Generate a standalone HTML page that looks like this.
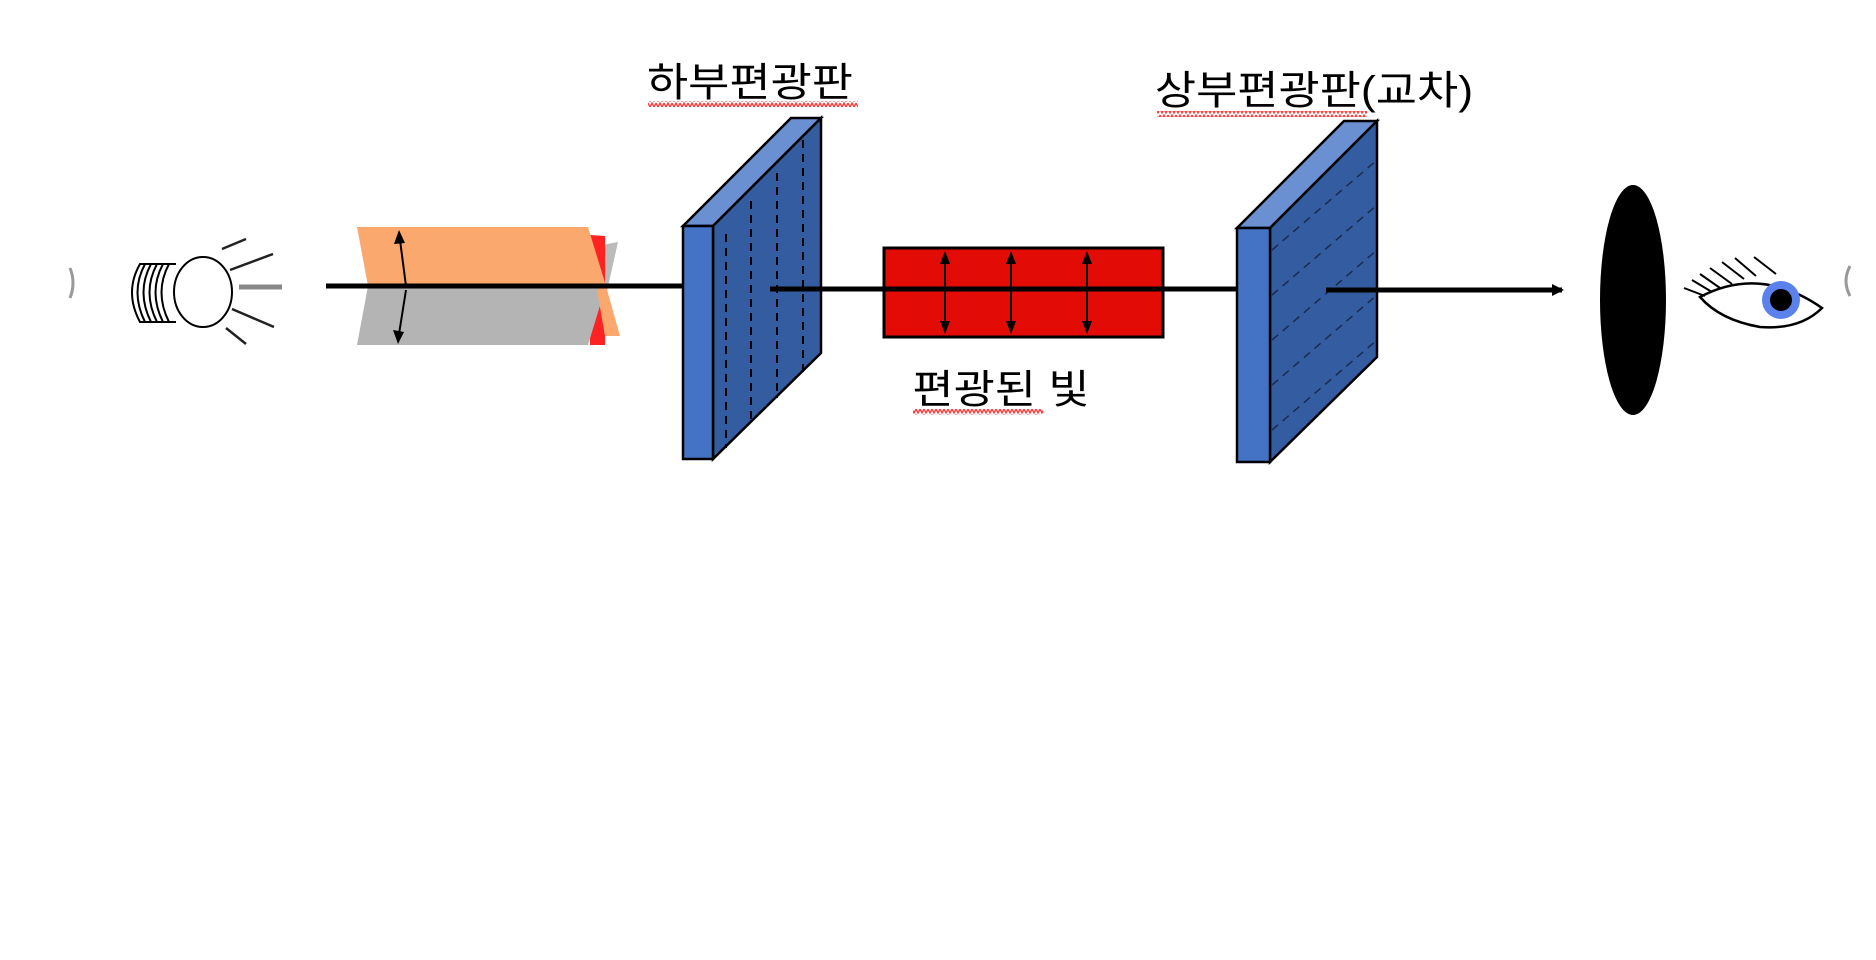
<!DOCTYPE html>
<html><head><meta charset="utf-8"><style>html,body{margin:0;padding:0;background:#fff;}svg{display:block;}</style></head>
<body>
<svg width="1876" height="960" viewBox="0 0 1876 960" xmlns="http://www.w3.org/2000/svg">
<defs>
<pattern id="sq" width="8" height="6" patternUnits="userSpaceOnUse"><path d="M0 1 L2 5 L4 1 L6 5 L8 1" fill="none" stroke="#f33" stroke-width="1.3"/></pattern>
<marker id="ah" markerWidth="14" markerHeight="14" refX="10" refY="7" orient="auto" markerUnits="userSpaceOnUse"><path d="M0 1 L12 7 L0 13 Z" fill="#000"/></marker>
</defs>
<path d="M70 268 Q76 283 70 298" stroke="#999" stroke-width="3" fill="none"/>
<!-- bulb -->
<g stroke="#000" stroke-width="2" fill="#fff">
<path d="M176 264 L140 264 Q124 292 140 322 L176 322" />
<path d="M145 264 Q130 292 145 322 M151 264 Q136 292 151 322 M157 264 Q142 292 157 322 M163 264 Q148 292 163 322 M169 264 Q154 292 169 322" fill="none"/>
<ellipse cx="203" cy="292" rx="29" ry="35"/>
</g>
<g stroke="#222" stroke-width="2.5">
<line x1="222" y1="249" x2="246" y2="239"/><line x1="230" y1="270" x2="273" y2="254"/>
<line x1="239" y1="287" x2="282" y2="287" stroke="#888" stroke-width="5"/>
<line x1="232" y1="309" x2="274" y2="327"/><line x1="226" y1="328" x2="246" y2="344"/>
</g>
<!-- light block -->
<polygon points="597,246 618,242 605,300" fill="#bbb"/>
<polygon points="590,235 605,236 605,345 590,345" fill="#f22"/>
<polygon points="357,227 588,227 606,286 368,286" fill="#fba86e"/>
<polygon points="368,286 606,286 588,345 357,345" fill="#b4b4b4"/>
<polygon points="597,290 606,286 620,336 605,336" fill="#fba86e"/>
<g stroke="#000" stroke-width="2">
<line x1="400" y1="240" x2="406" y2="286"/><line x1="406" y1="290" x2="399" y2="334"/>
</g>
<polygon points="399,230 394,244 405,243" fill="#000"/>
<polygon points="398,344 393,330 404,332" fill="#000"/>
<line x1="326" y1="286" x2="683" y2="286" stroke="#000" stroke-width="5"/>
<!-- panel 1 -->
<g stroke="#000" stroke-width="2.5">
<polygon points="683,226 791,118 821,118 713,226" fill="#6a90d2"/>
<polygon points="713,226 821,118 821,353 713,459" fill="#335da0"/>
<rect x="683" y="226" width="30" height="233" fill="#4472c4"/>
</g>
<g stroke="#000" stroke-width="2" stroke-dasharray="8,6">
<line x1="726" y1="234" x2="726" y2="448"/><line x1="751" y1="201" x2="751" y2="424"/>
<line x1="777" y1="173" x2="777" y2="398"/><line x1="803" y1="140" x2="803" y2="372"/>
</g>
<text x="750" y="96" font-family="Liberation Sans, 'Noto Sans CJK KR', sans-serif" font-size="40" text-anchor="middle" transform="translate(750 0) scale(1.12 1) translate(-750 0)">하부편광판</text>
<rect x="648" y="101" width="210" height="6" fill="url(#sq)"/>
<!-- red box -->
<rect x="884" y="248" width="279" height="89" fill="#e20b05" stroke="#000" stroke-width="3"/>
<line x1="770" y1="289" x2="1238" y2="289" stroke="#000" stroke-width="5"/>
<g stroke="#000" stroke-width="2">
<line x1="945" y1="255" x2="945" y2="330"/><line x1="1011" y1="255" x2="1011" y2="330"/><line x1="1087" y1="255" x2="1087" y2="330"/>
</g>
<g fill="#000">
<polygon points="945,251 940,264 950,264"/><polygon points="945,334 940,321 950,321"/>
<polygon points="1011,251 1006,264 1016,264"/><polygon points="1011,334 1006,321 1016,321"/>
<polygon points="1087,251 1082,264 1092,264"/><polygon points="1087,334 1082,321 1092,321"/>
</g>
<text x="1001" y="403" font-family="Liberation Sans, 'Noto Sans CJK KR', sans-serif" font-size="40" text-anchor="middle" transform="translate(1001 0) scale(1.12 1) translate(-1001 0)">편광된 빛</text>
<rect x="913" y="409" width="130" height="6" fill="url(#sq)"/>
<!-- panel 2 -->
<g stroke="#000" stroke-width="2.5">
<polygon points="1237,228 1344,121 1377,121 1270,228" fill="#6a90d2"/>
<polygon points="1270,228 1377,121 1377,357 1270,462" fill="#335da0"/>
<rect x="1237" y="228" width="33" height="234" fill="#4472c4"/>
</g>
<g stroke="#1a2a50" stroke-width="1.5" stroke-dasharray="8,6">
<line x1="1272" y1="250" x2="1377" y2="160"/><line x1="1272" y1="295" x2="1377" y2="205"/>
<line x1="1272" y1="340" x2="1377" y2="250"/><line x1="1272" y1="385" x2="1377" y2="295"/>
<line x1="1272" y1="430" x2="1377" y2="340"/>
</g>
<text x="1314" y="104" font-family="Liberation Sans, 'Noto Sans CJK KR', sans-serif" font-size="40" text-anchor="middle" transform="translate(1314 0) scale(1.12 1) translate(-1314 0)">상부편광판(교차)</text>
<rect x="1157" y="111" width="210" height="6" fill="url(#sq)"/>
<line x1="1326" y1="290" x2="1562" y2="290" stroke="#000" stroke-width="5" marker-end="url(#ah)"/>
<!-- lens -->
<ellipse cx="1633" cy="300" rx="33" ry="115" fill="#000"/>
<!-- eye -->
<path d="M1700 297 Q1760 265 1822 308 Q1800 330 1760 327 Q1720 320 1700 297 Z" fill="#fff" stroke="#000" stroke-width="2.5"/>
<circle cx="1781" cy="300" r="19" fill="#5b82ec"/>
<circle cx="1781" cy="300" r="11" fill="#000"/>
<g stroke="#000" stroke-width="2" fill="none">
<path d="M1684 288 L1705 296"/><path d="M1692 280 L1712 292"/>
<path d="M1700 274 L1720 288"/><path d="M1710 268 L1732 284"/>
<path d="M1722 262 L1744 279"/><path d="M1735 258 L1756 276"/><path d="M1754 257 L1776 274"/>
</g>
<path d="M1850 266 Q1842 281 1850 296" stroke="#999" stroke-width="3" fill="none"/>
</svg>
</body></html>
